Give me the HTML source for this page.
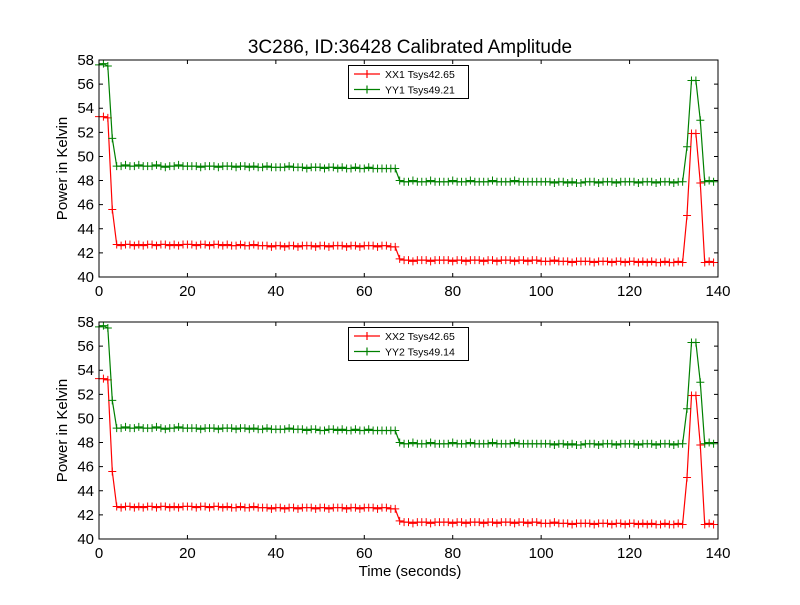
<!DOCTYPE html>
<html><head><meta charset="utf-8"><style>
body{margin:0;background:#fff}
svg{font-family:"Liberation Sans","DejaVu Sans",sans-serif}
</style></head><body>
<svg id="fig" width="800" height="600" viewBox="0 0 800 600">
<rect width="800" height="600" fill="#fff"/>
<text x="410" y="53" text-anchor="middle" font-size="19">3C286, ID:36428 Calibrated Amplitude</text>
<text x="410" y="576" text-anchor="middle" font-size="15">Time (seconds)</text>
</svg>
<script>
const xTicks=[0,20,40,60,80,100,120,140];
const yTicks=[40,42,44,46,48,50,52,54,56,58];
const xx1=[53.3,53.3,53.2,45.6,
42.7,42.6,42.7,42.7,42.6,42.7,42.6,42.7,42.7,42.6,42.7,42.7,42.6,42.7,42.6,42.7,42.7,
42.7,42.6,42.7,42.7,42.6,42.7,42.7,42.6,42.7,42.6,42.6,42.7,42.6,42.6,42.7,42.6,42.6,42.6,42.5,42.6,
42.6,42.5,42.6,42.6,42.5,42.6,42.6,42.6,42.5,42.6,42.6,42.5,42.6,42.6,42.6,42.5,42.6,42.6,42.5,42.6,42.6,42.6,42.5,42.6,42.6,42.5,
42.5,41.5,
41.4,41.4,41.3,41.4,41.4,41.4,41.3,41.4,41.4,41.4,41.4,41.3,41.4,41.4,41.3,41.4,41.4,41.4,41.3,41.4,41.4,41.3,41.4,41.4,41.4,41.3,41.4,41.4,41.3,41.4,41.4,41.3,
41.3,41.3,41.4,41.3,41.3,41.3,41.2,41.3,41.3,41.3,41.3,41.2,41.3,41.3,41.3,41.2,41.3,41.3,41.2,41.3,41.3,41.2,41.3,41.2,41.3,41.2,41.2,41.3,41.2,41.2,41.3,41.2,
45.1,51.9,51.9,47.8,41.2,41.3,41.2];
const yy1=[57.6,57.7,57.5,51.5,
49.2,49.2,49.3,49.2,49.2,49.3,49.2,49.2,49.2,49.3,49.2,49.1,49.2,49.2,49.3,49.2,49.2,
49.2,49.2,49.1,49.2,49.2,49.2,49.1,49.2,49.2,49.2,49.1,49.2,49.2,49.1,49.2,49.1,49.1,49.2,49.1,49.1,
49.1,49.1,49.2,49.1,49.1,49.1,49.0,49.1,49.1,49.1,49.0,49.1,49.1,49.0,49.1,49.0,49.0,49.1,49.0,49.0,49.1,49.0,49.0,49.0,49.0,49.0,
49.0,48.0,
47.9,47.9,48.0,47.9,47.9,47.9,48.0,47.9,47.9,47.9,47.9,48.0,47.9,47.9,47.9,48.0,47.9,47.9,47.9,47.9,48.0,47.9,47.9,47.9,47.9,48.0,47.9,47.9,47.9,47.9,47.9,47.9,
47.9,47.9,47.8,47.9,47.9,47.8,47.9,47.8,47.8,47.9,47.9,47.9,47.8,47.9,47.9,47.9,47.8,47.9,47.9,47.9,47.9,47.8,47.9,47.9,47.9,47.8,47.9,47.9,47.9,47.8,47.9,47.9,
50.8,56.3,56.3,53.0,47.9,48.0,47.9];
const xx2=xx1.slice();
const yy2=yy1.slice(); yy2[50]=49.0;
const seriesTop=[{name:"XX1 Tsys42.65",vals:xx1,c:"#ff0000"},{name:"YY1 Tsys49.21",vals:yy1,c:"#008000"}];
const seriesBot=[{name:"XX2 Tsys42.65",vals:xx2,c:"#ff0000"},{name:"YY2 Tsys49.14",vals:yy2,c:"#008000"}];
const NS="http://www.w3.org/2000/svg";
const svg=document.getElementById('fig');
function mk(tag,attrs,parent){const e=document.createElementNS(NS,tag);for(const k in attrs)e.setAttribute(k,attrs[k]);(parent||svg).appendChild(e);return e;}
function panel(top,series,idx){
  const L=99,R=718,T=top,B=top+217;
  const sx=v=>L+(v-0)/140*(R-L);
  const sy=v=>B-(v-40)/18*(B-T);
  const g=mk('g',{});
  
  
  series.forEach((s,si)=>{
    const sg=mk('g',{},g);
    
    
    const pts=s.vals.map((v,i)=>sx(i).toFixed(1)+','+sy(v).toFixed(1)).join(' ');
    mk('polyline',{points:pts,fill:'none',stroke:s.c,'stroke-width':1.2},sg);
    let d='';
    s.vals.forEach((v,i)=>{const x=sx(i),y=sy(v);d+=`M${x-4},${y}h8M${x},${y-4}v8`;});
    const m=mk('path',{d:d,stroke:s.c,'stroke-width':1,fill:'none'},sg);
    
    
  });
  const fr=mk('rect',{x:L,y:T,width:R-L,height:B-T,fill:'none',stroke:'#000','stroke-width':1},g);
  
  
  xTicks.forEach(t=>{
    const x=sx(t);
    mk('path',{d:`M${x},${B}v-4M${x},${T}v4`,stroke:'#000'},g);
    const tx=mk('text',{x:x,y:B+19,'text-anchor':'middle','font-size':15},g);
    tx.textContent=t;
    
    
  });
  yTicks.forEach(t=>{
    const y=sy(t);
    mk('path',{d:`M${L},${y}h4M${R},${y}h-4`,stroke:'#000'},g);
    const tx=mk('text',{x:L-5,y:y+5,'text-anchor':'end','font-size':15},g);
    tx.textContent=t;
    
    
  });
  const yl=mk('text',{x:0,y:0,'text-anchor':'middle','font-size':15,transform:`translate(67,${(T+B)/2}) rotate(-90)`},g);
  yl.textContent='Power in Kelvin';
  
  
  const lg=mk('g',{},g);
  
  
  mk('rect',{x:348.5,y:T+5.5,width:120,height:33,fill:'#fff',stroke:'#000'},lg);
  series.forEach((s,si)=>{
    const y=T+14+si*15.5;
    const e=mk('g',{},lg);
    
    
    mk('path',{d:`M354,${y}h26M367,${y-4}v8M363,${y}h8`,stroke:s.c,'stroke-width':1.2},e);
    const tx=mk('text',{x:385,y:y+4,'font-size':10.5},e);
    tx.textContent=s.name;
  });
}
panel(60,seriesTop,'top');
panel(322,seriesBot,'bottom');
</script>
</body></html>
